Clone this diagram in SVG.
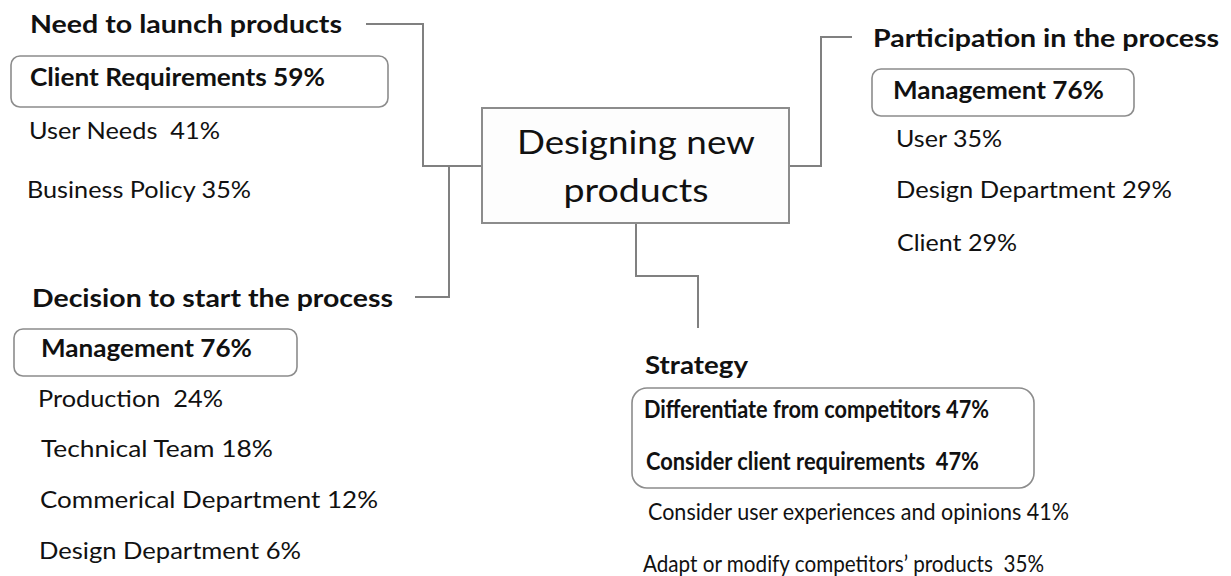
<svg xmlns="http://www.w3.org/2000/svg" width="1231" height="576" viewBox="0 0 1231 576">
<style>
.bg{fill:#ffffff}
.conn{fill:none;stroke:#808080;stroke-width:2}
.box{fill:#ffffff;stroke:#8c8c8c;stroke-width:1.6}
.main{fill:#fdfdfd;stroke:#8c8c8c;stroke-width:2}
text{font-family:Lato,"Open Sans","Liberation Sans",sans-serif;fill:#111111;white-space:pre}
.h{font-weight:bold;font-size:25px}
.b{font-weight:bold;font-size:24px}
.r{font-size:23px}
.c{font-size:32px;text-anchor:middle}
</style>
<rect class="bg" x="0" y="0" width="1231" height="576"/>
<g id="connectors">
<polyline class="conn" points="366,24 423,24 423,166 482,166"/>
<polyline class="conn" points="415,297 449,297 449,166"/>
<polyline class="conn" points="789,166 821,166 821,37 852,37"/>
<polyline class="conn" points="636,223 636,276 698,276 698,328"/>
</g>
<g id="center">
<rect class="main" x="482" y="108" width="307" height="115"/>
<text class="c" x="636" y="154" textLength="238" lengthAdjust="spacingAndGlyphs">Designing new</text>
<text class="c" x="636" y="202" textLength="145" lengthAdjust="spacingAndGlyphs">products</text>
</g>
<g id="need">
<text class="h" x="30" y="33" textLength="312" lengthAdjust="spacingAndGlyphs">Need to launch products</text>
<rect class="box" x="11" y="56" width="377" height="51" rx="9"/>
<text class="b" x="30" y="86" textLength="295" lengthAdjust="spacingAndGlyphs">Client Requirements 59%</text>
<text class="r" x="29" y="139" textLength="191" lengthAdjust="spacingAndGlyphs">User Needs  41%</text>
<text class="r" x="27" y="198" textLength="224" lengthAdjust="spacingAndGlyphs">Business Policy 35%</text>
</g>
<g id="participation">
<text class="h" x="873" y="47" textLength="346" lengthAdjust="spacingAndGlyphs">Participation in the process</text>
<rect class="box" x="872" y="69" width="262" height="47" rx="9"/>
<text class="b" x="893" y="99" textLength="211" lengthAdjust="spacingAndGlyphs">Management 76%</text>
<text class="r" x="896" y="147" textLength="106" lengthAdjust="spacingAndGlyphs">User 35%</text>
<text class="r" x="896" y="198" textLength="276" lengthAdjust="spacingAndGlyphs">Design Department 29%</text>
<text class="r" x="897" y="251" textLength="120" lengthAdjust="spacingAndGlyphs">Client 29%</text>
</g>
<g id="decision">
<text class="h" x="32" y="307" textLength="361" lengthAdjust="spacingAndGlyphs">Decision to start the process</text>
<rect class="box" x="14" y="329" width="283" height="47" rx="9"/>
<text class="b" x="41" y="357" textLength="211" lengthAdjust="spacingAndGlyphs">Management 76%</text>
<text class="r" x="38" y="407" textLength="185" lengthAdjust="spacingAndGlyphs">Production  24%</text>
<text class="r" x="41" y="457" textLength="232" lengthAdjust="spacingAndGlyphs">Technical Team 18%</text>
<text class="r" x="40" y="508" textLength="338" lengthAdjust="spacingAndGlyphs">Commerical Department 12%</text>
<text class="r" x="39" y="559" textLength="262" lengthAdjust="spacingAndGlyphs">Design Department 6%</text>
</g>
<g id="strategy">
<text class="h" x="645" y="374" textLength="103" lengthAdjust="spacingAndGlyphs">Strategy</text>
<rect class="box" x="632" y="388" width="402" height="100" rx="15"/>
<text class="b" x="644" y="418" textLength="345" lengthAdjust="spacingAndGlyphs">Differentiate from competitors 47%</text>
<text class="b" x="646" y="470" textLength="333" lengthAdjust="spacingAndGlyphs">Consider client requirements  47%</text>
<text class="r" x="648" y="520" textLength="421" lengthAdjust="spacingAndGlyphs">Consider user experiences and opinions 41%</text>
<text class="r" x="643" y="572" textLength="401" lengthAdjust="spacingAndGlyphs">Adapt or modify competitors’ products  35%</text>
</g>
</svg>
